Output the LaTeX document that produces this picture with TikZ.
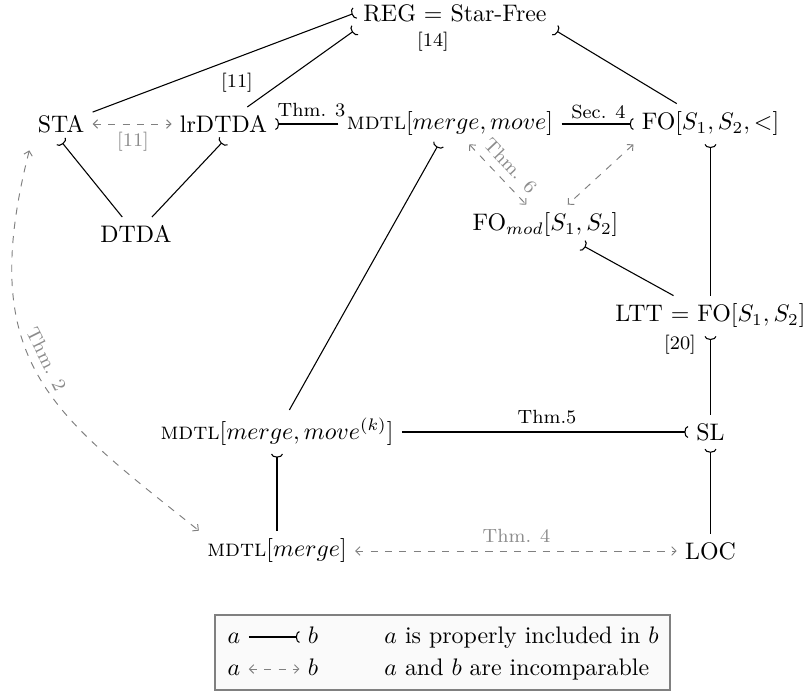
\documentclass[tikz,border=0pt]{standalone}
\usetikzlibrary{arrows.meta}
\begin{document}
\begin{tikzpicture}[x=0.4184pt, y=-0.4184pt,
  incl/.style={-{Arc Barb[reversed,length=1.5pt,width=5pt]}, line width=0.45pt},
  incomp/.style={{Straight Barb[length=1.8pt,width=3.6pt]}-{Straight Barb[length=1.8pt,width=3.6pt]}, dashed, draw=black!50, line width=0.4pt},
  lbl/.style={font=\footnotesize},
  glbl/.style={font=\footnotesize, text=black!45},
  cls/.style={inner sep=3.33pt},
  leg/.style={inner sep=3.33pt, text height=1.5ex, text depth=.25ex}]
\useasboundingbox (0,0) rectangle (809,693);

% classes
\node[cls] (REG) at (455,13) {REG $=$ Star-Free};
\node[cls] (STA) at (61,124) {STA};
\node[cls] (lr) at (223.5,124) {lrDTDA};
\node[cls] (DTDA) at (136,234) {DTDA};
\node[cls] (MM) at (450,124) {\textsc{mdtl}$[merge, move]$};
\node[cls] (FO) at (710.5,124) {FO$[S_1, S_2, <]$};
\node[cls] (FOm) at (545.5,225) {FO$_{mod}[S_1, S_2]$};
\node[cls] (LTT) at (710.5,316) {LTT $=$ FO$[S_1, S_2]$};
\node[cls] (SL) at (710.5,432) {SL};
\node[cls] (MK) at (277,432) {\textsc{mdtl}$[merge, move^{(k)}]$};
\node[cls] (MG) at (277,551) {\textsc{mdtl}$[merge]$};
\node[cls] (LOC) at (710.5,551) {LOC};

% labels
\node[lbl] (l14) at (433,42) {[14]};
\node[lbl] (l11a) at (237,83) {[11]};
\node[glbl] (l11b) at (133,142) {[11]};
\node[lbl] (lt3) at (311.5,110) {Thm. 3};
\node[lbl] (ls4) at (598.5,112) {Sec. 4};
\node[lbl] (lt5) at (547,417) {Thm.5};
\node[glbl] (lt4) at (516.5,536) {Thm. 4};
\node[lbl] (l20) at (680,345) {[20]};

% proper inclusions
\draw[incl] (STA) -- (REG.west);
\draw[incl] (lr) -- (REG.south west);
\draw[incl] (FO) -- (REG.south east);
\draw[incl] (DTDA) -- (STA.south);
\draw[incl] (DTDA) -- (lr.south);
\draw[incl] (MM) -- (lr);
\draw[incl] (MM) -- (FO);
\draw[incl] (MK) -- (MM);
\draw[incl] (MG) -- (MK);
\draw[incl] (MK) -- (SL);
\draw[incl] (LOC) -- (SL);
\draw[incl] (SL) -- (LTT);
\draw[incl] (LTT) -- (FO);
\draw[incl] (LTT) -- (FOm);

% incomparabilities
\draw[incomp] (STA) -- (lr);
\draw[incomp] (MM) -- node[glbl, sloped, above, pos=0.53] {Thm. 6} (FOm);
\draw[incomp] (FO.south west) -- (FOm);
\draw[incomp] (MG) -- (LOC);
\coordinate (STAc) at ([yshift=-3.8pt]STA.south west);
\draw[incomp] (STAc) .. controls +(-54,212) and +(-148,-118) .. node[glbl, sloped, above, pos=0.47] {Thm. 2} (MG.north west);

% legend
\draw[draw=black!50, line width=1.2pt, fill=black!2] (215,615) rectangle (670,690);
\node[leg] (la1) at (234,637) {$a$};
\node[leg] (lb1) at (313,637) {$b$};
\node[leg] (la2) at (234,669) {$a$};
\node[leg] (lb2) at (313,669) {$b$};
\node[leg, anchor=west] (ld1) at (376,637) {$a$ is properly included in $b$};
\node[leg, anchor=west] (ld2) at (376,669) {$a$ and $b$ are incomparable};
\draw[incl] (la1) -- (lb1);
\draw[incomp] (la2) -- (lb2);
\end{tikzpicture}
\end{document}
